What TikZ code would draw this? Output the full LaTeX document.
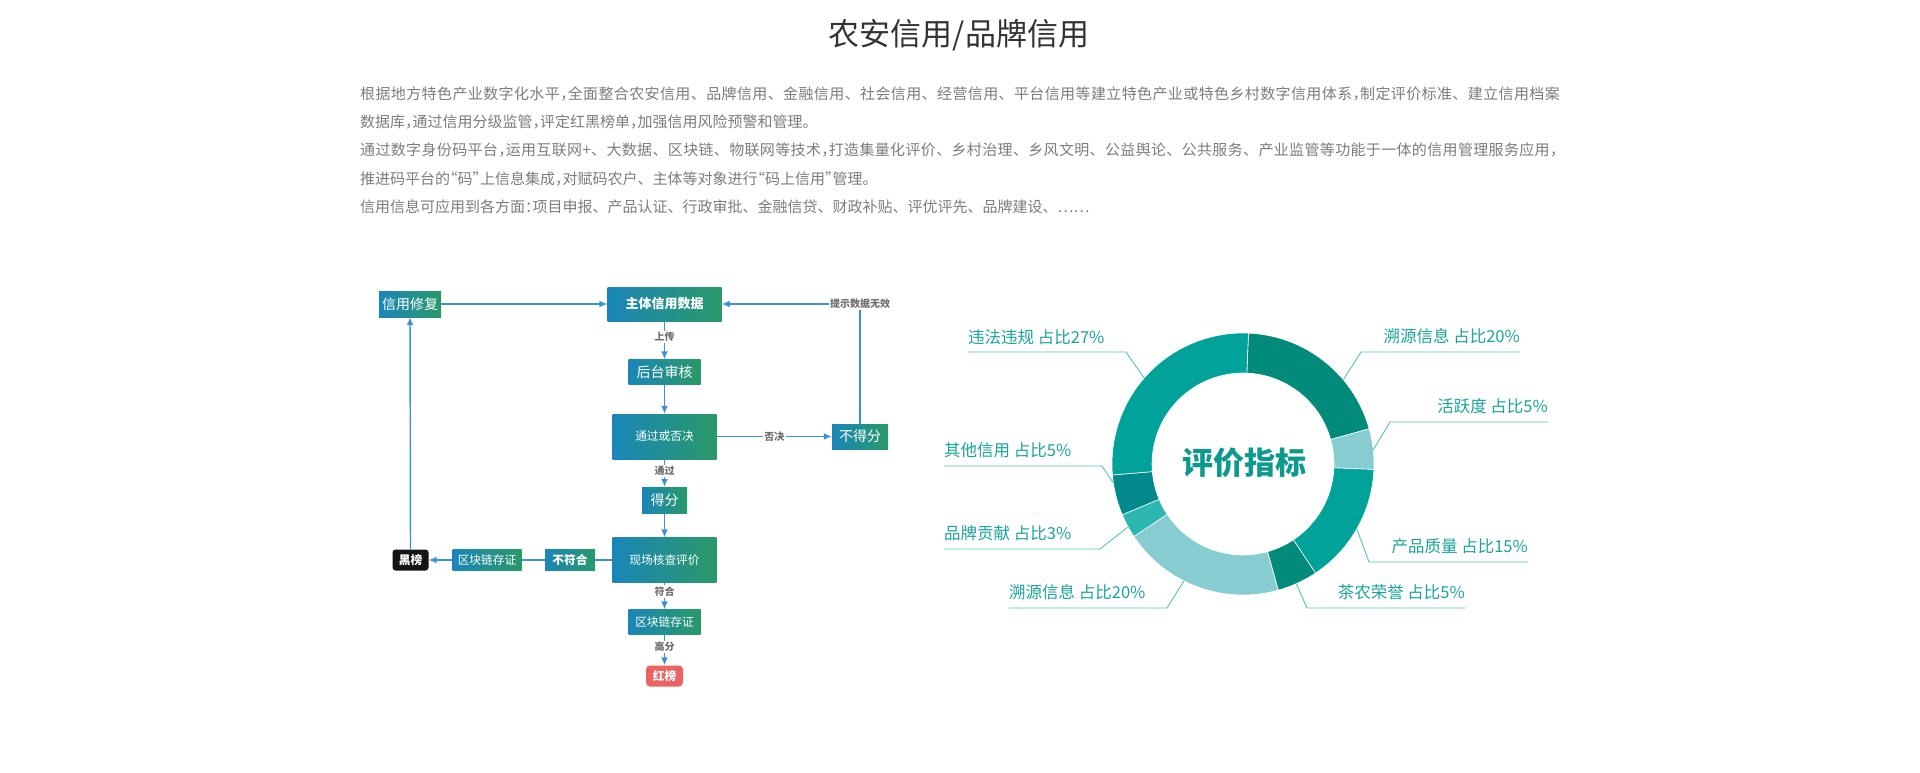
\documentclass[tikz,border=0pt]{standalone}
\usepackage{fontspec}
\setmainfont{Noto Sans CJK SC}
\usetikzlibrary{arrows.meta}
\definecolor{boxl}{HTML}{1A86B8}
\definecolor{boxr}{HTML}{2A9968}
\definecolor{arr}{HTML}{3F8ED8}
\definecolor{tagtxt}{HTML}{6E6E6E}
\definecolor{ringa}{HTML}{028A7B}
\definecolor{ringb}{HTML}{86CCD1}
\definecolor{ringc}{HTML}{01A29A}
\definecolor{ringd}{HTML}{2DB7B1}
\definecolor{ringe}{HTML}{03898B}
\definecolor{labtxt}{HTML}{1AA39B}
\definecolor{labln}{HTML}{55C0BA}
\definecolor{paratxt}{HTML}{7C7C7C}
\definecolor{titletxt}{HTML}{333333}
\definecolor{ctrtxt}{HTML}{0D998E}
\definecolor{redbox}{HTML}{EC6461}
\newXeTeXintercharclass\halfpunct
\newXeTeXintercharclass\halfopen
\XeTeXcharclass`，=\halfpunct
\XeTeXcharclass`。=\halfpunct
\XeTeXcharclass`：=\halfpunct
\XeTeXcharclass`”=\halfpunct
\XeTeXcharclass`“=\halfopen
\XeTeXinterchartoks\halfpunct 0 = {\kern-.5em}
\XeTeXinterchartoks\halfpunct 1 = {\kern-.5em}
\XeTeXinterchartoks\halfpunct 4095 = {\kern-.5em}
\XeTeXinterchartoks 0 \halfopen = {\kern-.5em}
\XeTeXinterchartoks 1 \halfopen = {\kern-.5em}
\XeTeXinterchartokenstate=1
\begin{document}
\begin{tikzpicture}[x=1pt,y=-1pt,>={Latex[length=8pt,width=7pt]}, line join=round,
	fbox/.style={left color=boxl, right color=boxr, text=white, inner sep=0pt},
	tag/.style={fill=white, text=tagtxt, font=\fontsize{10}{10}\selectfont\bfseries, inner sep=1.5pt},
	link/.style={draw=arr, line width=1.4pt},
	lab/.style={text=labtxt, font=\fontsize{16.5}{16.5}\selectfont, inner xsep=0pt, inner ysep=7.5pt},
	leader/.style={draw=labln, line width=0.9pt},
	para/.style={anchor=west, text=paratxt, inner sep=0pt, font=\fontsize{15}{15}\selectfont}]
	
	\useasboundingbox (0,0) rectangle (1920,772);
	\def\cx{1243} \def\cy{464}
	\def\ro{131pt} \def\ri{91pt}
	
	\node[font=\fontsize{31}{31}\selectfont, text=titletxt] (title) at (959,35) {农安信用/品牌信用};
	\node[para] (p1) at (360,94) {\addfontfeature{LetterSpace=2.6}根据地方特色产业数字化水平，全面整合农安信用、品牌信用、金融信用、社会信用、经营信用、平台信用等建立特色产业或特色乡村数字信用体系，制定评价标准、建立信用档案};
	\node[para] (p2) at (360,122) {数据库，通过信用分级监管，评定红黑榜单，加强信用风险预警和管理。};
	\node[para] (p3) at (360,150) {\addfontfeature{LetterSpace=2.3}通过数字身份码平台，运用互联网+、大数据、区块链、物联网等技术，打造集量化评价、乡村治理、乡风文明、公益舆论、公共服务、产业监管等功能于一体的信用管理服务应用，};
	\node[para] (p4) at (360,179) {推进码平台的“码”上信息集成，对赋码农户、主体等对象进行“码上信用”管理。};
	\node[para] (p5) at (360,207) {信用信息可应用到各方面：项目申报、产品认证、行政审批、金融信贷、财政补贴、评优评先、品牌建设、……};
	
	\node[fbox, minimum width=62, minimum height=26, font=\fontsize{14}{14}\selectfont] (xf) at (410,304) {信用修复};
	\node[fbox, minimum width=114, minimum height=34, font=\fontsize{13}{13}\selectfont\bfseries] (zt) at (664.5,304) {主体信用数据};
	\node[fbox, minimum width=72, minimum height=25, font=\fontsize{14}{14}\selectfont] (hs) at (664.5,372) {后台审核};
	\node[fbox, minimum width=104, minimum height=45, font=\fontsize{11.7}{11.7}\selectfont] (tg) at (664.5,436.5) {通过或否决};
	\node[fbox, minimum width=56, minimum height=25, font=\fontsize{14}{14}\selectfont] (bdf) at (860,436.5) {不得分};
	\node[fbox, minimum width=45, minimum height=26, font=\fontsize{14}{14}\selectfont] (df) at (664.5,500) {得分};
	\node[fbox, minimum width=104, minimum height=45, font=\fontsize{11.7}{11.7}\selectfont] (xc) at (664.5,560) {现场核查评价};
	\node[fbox, minimum width=50, minimum height=21, font=\fontsize{11.7}{11.7}\selectfont\bfseries] (bfh) at (570,560) {不符合};
	\node[fbox, minimum width=69, minimum height=21, font=\fontsize{11.7}{11.7}\selectfont] (qk1) at (487,560) {区块链存证};
	\node[fill=black!92, text=white, rounded corners=3pt, minimum width=36, minimum height=21, inner sep=0pt, font=\fontsize{11.7}{11.7}\selectfont\bfseries] (hb) at (410.5,560) {黑榜};
	\node[fbox, minimum width=72, minimum height=25, font=\fontsize{11.7}{11.7}\selectfont] (qk2) at (664.5,622) {区块链存证};
	\node[fill=redbox, text=white, rounded corners=4pt, minimum width=37, minimum height=21, inner sep=0pt, font=\fontsize{11.7}{11.7}\selectfont\bfseries] (hong) at (664.5,676) {红榜};
	
	\draw[link,->] (xf) -- (zt);
	\draw[link,->] (zt) -- node[tag,pos=0.42]{上传} (hs);
	\draw[link,->] (hs) -- (tg);
	\draw[link,->] (tg) -- node[tag]{否决} (bdf);
	\draw[link,->] (bdf) |- node[tag,pos=0.5]{提示数据无效} (zt);
	\draw[link,->] (tg) -- node[tag,pos=0.42]{通过} (df);
	\draw[link,->] (df) -- (xc);
	\draw[link] (xc) -- (bfh);
	\draw[link] (bfh) -- (qk1);
	\draw[link,->] (qk1) -- (hb);
	\draw[link,->] (hb) -- (xf);
	\draw[link,->] (xc) -- node[tag,pos=0.34]{符合} (qk2);
	\draw[link,->] (qk2) -- node[tag,pos=0.4]{高分} (hong);
	
	\coordinate (c) at (\cx,\cy);
	\foreach \a/\b/\col in {87.6/15.6/ringa, 15.6/-2.4/ringb, -2.4/-56.4/ringc, -56.4/-74.4/ringa,
		-74.4/-146.4/ringb, -146.4/-157.2/ringd, -157.2/-175.2/ringe, -175.2/-272.4/ringc}
	\fill[\col, draw=white, line width=0.6pt] ([shift={(\a:\ro)}]c) arc[start angle=\a, end angle=\b, radius=\ro]
		-- ([shift={(\b:\ri)}]c) arc[start angle=\b, end angle=\a, radius=\ri] -- cycle;
	\node[font=\fontsize{31}{31}\selectfont\bfseries, text=ctrtxt] (ctr) at (1244,463) {评价指标};
	
	\coordinate (r1) at ([shift={(139:\ro)}]c);
	\coordinate (r2) at ([shift={(40:\ro)}]c);
	\coordinate (r3) at ([shift={(6.2:\ro)}]c);
	\coordinate (r4) at ([shift={(-29.7:\ro)}]c);
	\coordinate (r5) at ([shift={(-66:\ro)}]c);
	\coordinate (r6) at ([shift={(-171.6:\ro)}]c);
	\coordinate (r7) at ([shift={(-151.3:\ro)}]c);
	\coordinate (r8) at ([shift={(-116.8:\ro)}]c);
	
	\node[lab, anchor=south west] (wf) at (968,352) {违法违规 占比27\%};
	\node[lab, anchor=south east] (sy1) at (1520,352) {溯源信息 占比20\%};
	\node[lab, anchor=south east] (hy) at (1548,422) {活跃度 占比5\%};
	\node[lab, anchor=south east] (cp) at (1528,562) {产品质量 占比15\%};
	\node[lab, anchor=south east] (cn) at (1465,608) {茶农荣誉 占比5\%};
	\node[lab, anchor=south west] (qt) at (944,466) {其他信用 占比5\%};
	\node[lab, anchor=south west] (pp) at (944,549) {品牌贡献 占比3\%};
	\node[lab, anchor=south west] (sy2) at (1009,608) {溯源信息 占比20\%};
	\draw[leader] (wf.south west) -- ++(158,0) -- (r1);
	\draw[leader] (sy1.south east) -- ++(-159,0) -- (r2);
	\draw[leader] (hy.south east) -- ++(-158,0) -- (r3);
	\draw[leader] (cp.south east) -- ++(-159,0) -- (r4);
	\draw[leader] (cn.south east) -- ++(-158,0) -- (r5);
	\draw[leader] (qt.south west) -- ++(158,0) -- (r6);
	\draw[leader] (pp.south west) -- ++(156,0) -- (r7);
	\draw[leader] (sy2.south west) -- ++(158,0) -- (r8);
\end{tikzpicture}
\end{document}
